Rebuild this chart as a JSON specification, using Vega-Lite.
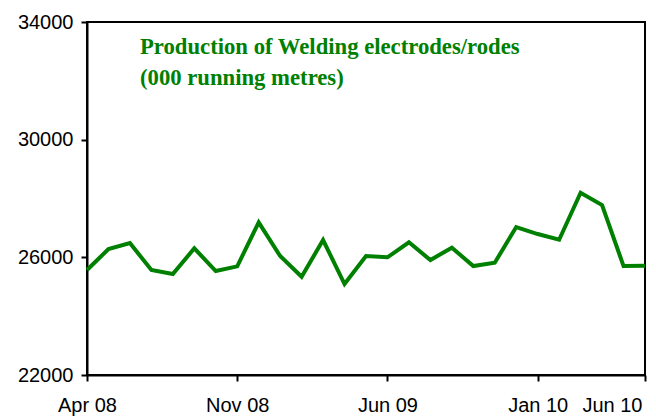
{
  "$schema": "https://vega.github.io/schema/vega-lite/v6.json",
  "width": 558,
  "height": 353,
  "autosize": {"type": "none"},
  "padding": {"left": 87, "top": 22, "right": 11, "bottom": 41},
  "background": "white",
  "title": {
    "text": ["Production of Welding electrodes/rodes", "(000 running metres)"],
    "anchor": "start",
    "frame": "group",
    "dx": 53,
    "dy": 82,
    "color": "#008000",
    "font": "Liberation Serif",
    "fontSize": 22.7,
    "fontWeight": "bold",
    "lineHeight": 31
  },
  "config": {
    "view": {"stroke": "#000", "strokeWidth": 2},
    "axis": {
      "domainColor": "#000",
      "domainWidth": 2,
      "tickColor": "#000",
      "tickWidth": 2,
      "tickSize": 6,
      "labelFont": "Liberation Sans",
      "labelFontSize": 20,
      "labelColor": "#000",
      "grid": false,
      "title": null
    }
  },
  "data": {
    "values": [
      {"month": "Apr 08", "value": 25568},
      {"month": "May 08", "value": 26282},
      {"month": "Jun 08", "value": 26486},
      {"month": "Jul 08", "value": 25568},
      {"month": "Aug 08", "value": 25432},
      {"month": "Sep 08", "value": 26306},
      {"month": "Oct 08", "value": 25534},
      {"month": "Nov 08", "value": 25694},
      {"month": "Dec 08", "value": 27190},
      {"month": "Jan 09", "value": 26044},
      {"month": "Feb 09", "value": 25340},
      {"month": "Mar 09", "value": 26588},
      {"month": "Apr 09", "value": 25092},
      {"month": "May 09", "value": 26044},
      {"month": "Jun 09", "value": 26000},
      {"month": "Jul 09", "value": 26510},
      {"month": "Aug 09", "value": 25908},
      {"month": "Sep 09", "value": 26328},
      {"month": "Oct 09", "value": 25704},
      {"month": "Nov 09", "value": 25816},
      {"month": "Dec 09", "value": 27030},
      {"month": "Jan 10", "value": 26792},
      {"month": "Feb 10", "value": 26598},
      {"month": "Mar 10", "value": 28196},
      {"month": "Apr 10", "value": 27778},
      {"month": "May 10", "value": 25704},
      {"month": "Jun 10", "value": 25716}
    ]
  },
  "mark": {"type": "line", "color": "#008000", "strokeWidth": 4, "strokeJoin": "miter"},
  "encoding": {
    "x": {
      "field": "month",
      "type": "ordinal",
      "sort": null,
      "scale": {"type": "point", "padding": 0},
      "axis": {
        "values": ["Apr 08", "Nov 08", "Jun 09", "Jan 10", "Jun 10"],
        "labelAngle": 0,
        "labelPadding": 14,
        "labelAlign": {"expr": "datum.value == 'Jun 10' ? 'right' : 'center'"},
        "labelOffset": {"expr": "datum.value == 'Jun 10' ? -3 : 0"},
        "labelBound": false,
        "labelOverlap": false
      }
    },
    "y": {
      "field": "value",
      "type": "quantitative",
      "scale": {"domain": [22000, 34000], "nice": false, "zero": false},
      "axis": {"values": [22000, 26000, 30000, 34000], "format": "d", "labelPadding": 8}
    }
  }
}
